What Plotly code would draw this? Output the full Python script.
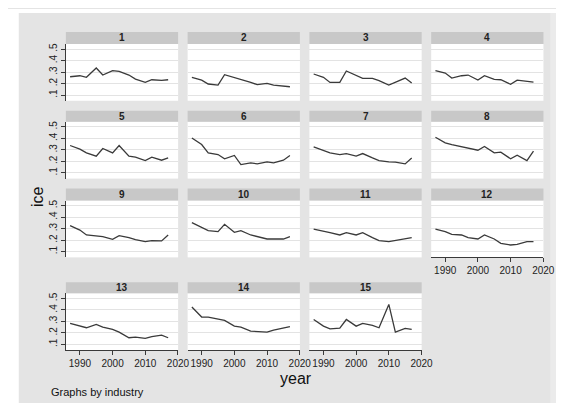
import plotly.graph_objects as go

W, H = 564, 403

years = [1987, 1990, 1992, 1995, 1997, 2000, 2002, 2005, 2007, 2010, 2012, 2015, 2017]

industries = [str(i) for i in range(1, 16)]

ice_1 = [.259, .268, .254, .335, .274, .312, .306, .274, .239, .210, .233, .228, .233]
ice_2 = [.254, .230, .196, .187, .277, .254, .239, .210, .190, .201, .187, .175, .172]
ice_3 = [.283, .254, .210, .210, .309, .268, .245, .245, .225, .187, .210, .248, .204]
ice_4 = [.312, .291, .248, .268, .274, .230, .268, .236, .233, .193, .230, .219, .213]
ice_5 = [.338, .306, .274, .245, .312, .274, .338, .245, .236, .207, .236, .210, .230]
ice_6 = [.404, .346, .274, .259, .222, .251, .172, .187, .178, .196, .187, .210, .251]
ice_7 = [.326, .297, .274, .259, .268, .245, .268, .230, .207, .196, .193, .178, .230]
ice_8 = [.410, .361, .346, .326, .312, .297, .329, .274, .280, .222, .254, .207, .288]
ice_9 = [.326, .288, .245, .239, .230, .207, .239, .222, .204, .187, .196, .193, .245]
ice_10 = [.352, .312, .283, .274, .338, .268, .283, .245, .230, .210, .210, .210, .230]
ice_11 = [.297, .280, .265, .245, .265, .245, .265, .222, .196, .187, .196, .207, .222]
ice_12 = [.297, .274, .251, .245, .222, .210, .245, .210, .172, .158, .164, .187, .187]
ice_13 = [.283, .259, .245, .274, .251, .230, .207, .158, .164, .152, .167, .181, .158]
ice_14 = [.425, .338, .338, .317, .309, .259, .251, .216, .210, .207, .225, .239, .254]
ice_15 = [.317, .259, .236, .242, .317, .259, .283, .265, .245, .448, .207, .239, .230]

series = [ice_1, ice_2, ice_3, ice_4, ice_5, ice_6, ice_7, ice_8,
          ice_9, ice_10, ice_11, ice_12, ice_13, ice_14, ice_15]

y_tickvals = [0.1, 0.2, 0.3, 0.4, 0.5]
y_ticktext = [".1", ".2", ".3", ".4", ".5"]
x_tickvals = [1990, 2000, 2010, 2020]
x_ticktext = ["1990", "2000", "2010", "2020"]

# layout geometry in pixels
col_left = [59.0, 183.2, 307.4, 431.6]
col_w = 114.5
rows = [(23, 35, 92), (102, 113, 170), (180, 192, 249), (274, 285, 342)]

def px(x):
    return x / W

def py(y):
    return 1 - y / H

FONT = "Liberation Sans, Arial, sans-serif"
BG = "#e4e4e4"
STRIP = "#c8c8c8"
LINE = "#3a3a3a"

fig = go.Figure()
shapes = []
annotations = []

# white page margins around the grey graph region
shapes.append(dict(type="rect", xref="paper", yref="paper", x0=0, x1=px(11), y0=0, y1=1,
                   fillcolor="white", line_width=0, layer="below"))
shapes.append(dict(type="rect", xref="paper", yref="paper", x0=0, x1=1, y0=py(4), y1=1,
                   fillcolor="white", line_width=0, layer="below"))
shapes.append(dict(type="rect", xref="paper", yref="paper", x0=px(553), x1=1, y0=0, y1=py(4),
                   fillcolor="#ebebeb", line_width=0, layer="below"))

layout_axes = {}
for k, vals in enumerate(series):
    r, c = divmod(k, 4)
    n = k + 1
    hdr_top, p_top, p_bot = rows[r]
    x0, x1 = col_left[c], col_left[c] + col_w
    xa = "xaxis" if n == 1 else f"xaxis{n}"
    ya = "yaxis" if n == 1 else f"yaxis{n}"
    xr = "x" if n == 1 else f"x{n}"
    yr = "y" if n == 1 else f"y{n}"

    fig.add_trace(go.Scatter(x=years, y=vals, mode="lines", xaxis=xr, yaxis=yr,
                             line=dict(color=LINE, width=1.3), showlegend=False,
                             hoverinfo="skip"))

    show_x = (r == 3) or (k == 11)
    show_y = (c == 0)
    layout_axes[xa] = dict(domain=[px(x0), px(x1)], anchor=yr, range=[1985.7, 2020.05],
                           showgrid=False, zeroline=False,
                           tickvals=x_tickvals, ticktext=x_ticktext,
                           showticklabels=show_x, ticks="outside" if show_x else "",
                           ticklen=4, tickcolor=LINE, tickwidth=1,
                           showline=show_x, linecolor=LINE, linewidth=1,
                           tickfont=dict(family=FONT, size=10, color="#222"))
    layout_axes[ya] = dict(domain=[py(p_bot), py(p_top)], anchor=xr, range=[0.05, 0.545],
                           showgrid=True, gridcolor="#e3e3e3", gridwidth=1, zeroline=False,
                           tickvals=y_tickvals, ticktext=y_ticktext,
                           showticklabels=show_y, ticks="outside" if show_y else "",
                           ticklen=4, tickcolor=LINE, tickwidth=1, tickangle=-90,
                           showline=show_y, linecolor=LINE, linewidth=1,
                           tickfont=dict(family=FONT, size=10, color="#222"))
    # strip header
    shapes.append(dict(type="rect", xref="paper", yref="paper",
                       x0=px(x0), x1=px(x1), y0=py(p_top), y1=py(hdr_top),
                       fillcolor=STRIP, line_width=0, layer="below"))
    annotations.append(dict(text=f"<b>{industries[k]}</b>", xref="paper", yref="paper",
                            x=px((x0 + x1) / 2), y=py((hdr_top + p_top) / 2),
                            showarrow=False, xanchor="center", yanchor="middle",
                            font=dict(family=FONT, size=10, color="#222")))

annotations.append(dict(text="ice", xref="paper", yref="paper", x=px(30), y=py(188),
                        showarrow=False, textangle=-90, xanchor="center", yanchor="middle",
                        font=dict(family=FONT, size=16, color="#111")))
annotations.append(dict(text="year", xref="paper", yref="paper", x=px(294), y=py(370),
                        showarrow=False, xanchor="center", yanchor="middle",
                        font=dict(family=FONT, size=16, color="#111")))
annotations.append(dict(text="Graphs by industry", xref="paper", yref="paper", x=px(42), y=py(384),
                        showarrow=False, xanchor="left", yanchor="middle",
                        font=dict(family=FONT, size=11, color="#111")))

fig.update_layout(width=W, height=H, margin=dict(l=0, r=0, t=0, b=0),
                  paper_bgcolor=BG, plot_bgcolor="white",
                  shapes=shapes, annotations=annotations, **layout_axes)

fig.write_html("out.html")
